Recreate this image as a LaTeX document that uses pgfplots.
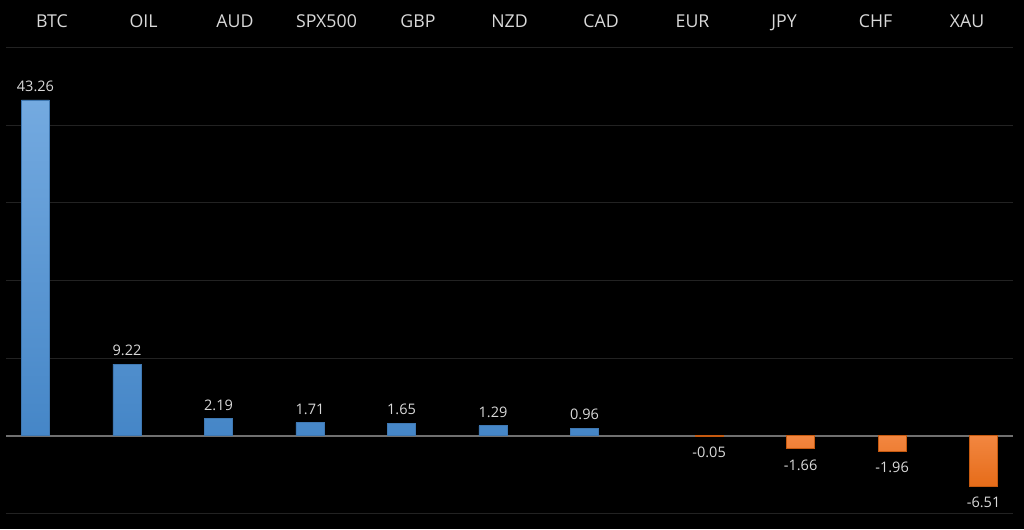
\documentclass[border=0pt]{standalone}
\usepackage{pgfplots}
\pgfplotsset{compat=1.18}
\usepackage{fontspec}
\setmainfont{Open Sans}

\definecolor{txt}{HTML}{D9D9D9}
\definecolor{gridc}{HTML}{222222}
\definecolor{zeroc}{HTML}{707070}
\definecolor{bluetop}{HTML}{74AAE0}
\definecolor{bluebot}{HTML}{4586C7}
\definecolor{blueedge}{HTML}{3F78B2}
\definecolor{orgtop}{HTML}{F28640}
\definecolor{orgbot}{HTML}{E66C19}
\definecolor{orgedge}{HTML}{C65A10}

\begin{document}
\begin{tikzpicture}
  \fill[black] (0,0) rectangle (768pt,396.75pt);
  \useasboundingbox (0,0) rectangle (768pt,396.75pt);
  \begin{axis}[
      at={(4.69pt,11.63pt)}, anchor=south west,
      scale only axis,
      width=754.9pt, height=349.5pt,
      xmin=-0.5, xmax=10.5,
      ymin=-10, ymax=50,
      axis line style={draw=none},
      xtick={0,...,10},
      xticklabels={BTC,OIL,AUD,SPX500,GBP,NZD,CAD,EUR,JPY,CHF,XAU},
      xticklabel pos=upper,
      major tick length=0pt,
      xticklabel style={anchor=base, yshift=15.2pt, text=txt, font=\fontsize{13.3pt}{15pt}\selectfont},
      ytick={-10,0,...,50},
      yticklabels={},
      ymajorgrids,
      grid style={gridc, line width=0.75pt},
      clip=false,
    ]
    % zero line
    \draw[zeroc, line width=1.1pt] (axis cs:-0.5,0) -- (axis cs:10.5,0);

    % gains
    \addplot[ybar, bar width=21pt, bar shift=-12.4pt,
      draw=blueedge, line width=0.5pt, top color=bluetop, bottom color=bluebot,
      point meta=explicit symbolic,
      nodes near coords={\pgfplotspointmeta},
      nodes near coords style={anchor=base, xshift=-12.4pt, yshift=6.4pt, text=txt, font=\fontsize{10.9pt}{12pt}\selectfont}]
    coordinates {
      (0,43.26) [43.26]
      (1,9.22)  [9.22]
      (2,2.19)  [2.19]
      (3,1.71)  [1.71]
      (4,1.65)  [1.65]
      (5,1.29)  [1.29]
      (6,0.96)  [0.96]
    };

    % losses
    \addplot[ybar, bar width=21pt, bar shift=12.4pt,
      draw=orgedge, line width=0.5pt, top color=orgtop, bottom color=orgbot,
      point meta=explicit symbolic,
      nodes near coords={\pgfplotspointmeta},
      nodes near coords style={anchor=base, xshift=12.4pt, yshift=-16.1pt, text=txt, font=\fontsize{10.9pt}{12pt}\selectfont}]
    coordinates {
      (7,-0.05) [-0.05]
      (8,-1.66) [-1.66]
      (9,-1.96) [-1.96]
      (10,-6.51) [-6.51]
    };
  \end{axis}
\end{tikzpicture}
\end{document}
